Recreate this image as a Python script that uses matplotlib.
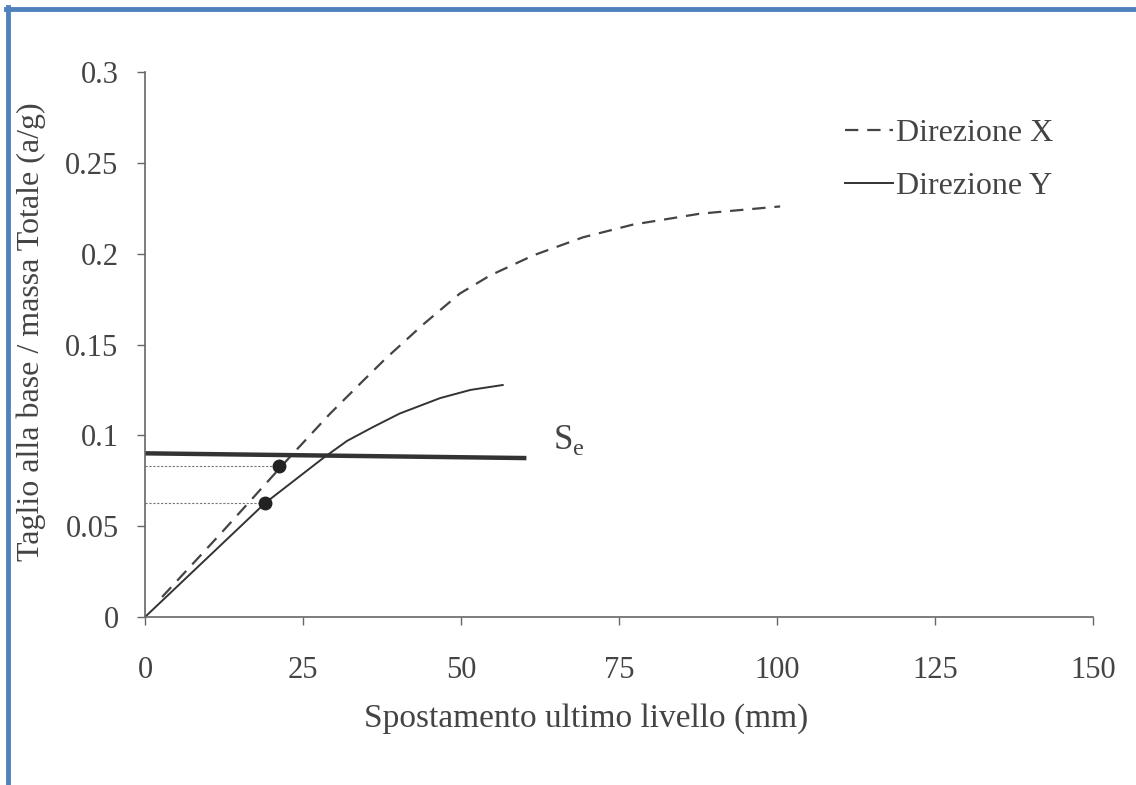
import numpy as np
import matplotlib.pyplot as plt
from matplotlib.lines import Line2D

# curves
dir_x_disp = [2.7, 12.0, 22.9, 29.3, 34.5, 38.0, 44.0, 49.8, 54.6, 61.4, 69.3, 77.2, 87.8, 100.5]
dir_x_v = [0.011, 0.046, 0.088, 0.112, 0.130, 0.142, 0.161, 0.178, 0.188, 0.199, 0.209, 0.216, 0.222, 0.226]

dir_y_disp = [0, 10.0, 19.0, 28.2, 32.0, 36.1, 40.3, 46.7, 51.5, 56.6]
dir_y_v = [0, 0.033, 0.0627, 0.0875, 0.097, 0.1046, 0.112, 0.1205, 0.125, 0.1277]

se_disp = [0, 60]
se_v = [0.0901, 0.0875]

pts_disp = [21.2, 19.0]
pts_v = [0.083, 0.0627]

xticks = [0, 25, 50, 75, 100, 125, 150]
yticks = [0, 0.05, 0.1, 0.15, 0.2, 0.25, 0.3]
ytick_labels = ['0', '0.05', '0.1', '0.15', '0.2', '0.25', '0.3']

plt.rcParams['font.family'] = ['Liberation Serif', 'DejaVu Serif']
txt = '#444444'
ax_col = '#666666'

fig = plt.figure(figsize=(11.36, 7.85), dpi=100)
ax = fig.add_axes([145/1136, 1 - 617/785, (1093 - 145)/1136, (617 - 72)/785])

ax.plot(dir_x_disp, dir_x_v, color='#444444', lw=1.6, ls=(0, (6, 4)), label='Direzione X')
ax.plot(dir_y_disp, dir_y_v, color='#333333', lw=1.4, label='Direzione Y')
ax.plot(se_disp, se_v, color='#333333', lw=3.2)

for xd, yd in zip(pts_disp, pts_v):
    ax.plot([0, xd], [yd, yd], color='#777777', lw=0.8, ls=(0, (2, 1.5)))
ax.plot(pts_disp, pts_v, 'o', color='#222222', ms=9)

ax.text(64.5, 0.0925, r'S$_\mathregular{e}$', fontsize=25, color=txt)

ax.set_xlim(0, 150)
ax.set_ylim(0, 0.3)
ax.set_xticks(xticks)
ax.set_yticks(yticks)
ax.set_yticklabels(ytick_labels)
ax.tick_params(axis='both', colors=ax_col, labelcolor=txt, labelsize=22, length=6, width=1)
ax.tick_params(axis='x', pad=22)
ax.tick_params(axis='y', pad=13)
for s in ['top', 'right']:
    ax.spines[s].set_visible(False)
for s in ['left', 'bottom']:
    ax.spines[s].set_color(ax_col)
    ax.spines[s].set_linewidth(1.2)

ax.set_xlabel('Spostamento ultimo livello (mm)', fontsize=24, color=txt)
ax.xaxis.set_label_coords((586 - 145) / 948, (617 - 703) / 545)
ax.set_ylabel('Taglio alla base / massa Totale (a/g)', fontsize=23, color=txt)
ax.yaxis.set_label_coords((46 - 145) / 948, (617 - 332) / 545)

ax.legend(loc='upper left', bbox_to_anchor=(845/1136, 1 - 119/785), bbox_transform=fig.transFigure,
          frameon=False, fontsize=23, borderpad=0, borderaxespad=0, handlelength=1.5,
          handletextpad=0.1, labelspacing=0.74, labelcolor=txt)

# blue frame of the page (top and left edges only)
fig.add_artist(Line2D([6/1136, 1], [1 - 9/785, 1 - 9/785], transform=fig.transFigure,
                      color='#4F81BD', lw=3.5))
fig.add_artist(Line2D([8/1136, 8/1136], [0, 1 - 7/785], transform=fig.transFigure,
                      color='#4F81BD', lw=3.5))

fig.savefig('out.png', dpi=100)
